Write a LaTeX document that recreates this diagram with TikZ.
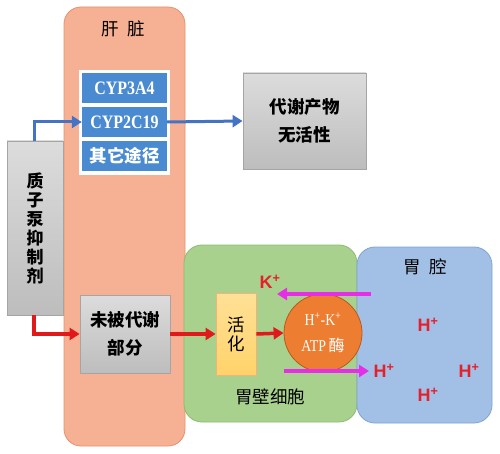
\documentclass[tikz,border=0pt]{standalone}
\usepackage{fontspec}
\setmainfont{Liberation Serif}
\newfontfamily\cjk{Noto Sans CJK SC}
\newfontfamily\arialf{Liberation Sans}
\newfontfamily\narrowserif{Liberation Serif}[FakeStretch=0.84]
\usetikzlibrary{arrows.meta}
\definecolor{liverfill}{HTML}{F6B093}
\definecolor{liverdraw}{HTML}{E5926D}
\definecolor{greenfill}{HTML}{A9D18E}
\definecolor{greendraw}{HTML}{8CBB6E}
\definecolor{bluefill}{HTML}{A2C0E6}
\definecolor{bluedraw}{HTML}{7EA3D3}
\definecolor{cypfill}{HTML}{4A8AD0}
\definecolor{atpfill}{HTML}{ED7D31}
\definecolor{atpdraw}{HTML}{B85A1E}
\definecolor{actfill}{HTML}{FFD36A}
\definecolor{actdraw}{HTML}{F2B27A}
\definecolor{arrblue}{HTML}{4472C4}
\definecolor{arrred}{HTML}{E01A1A}
\definecolor{arrmag}{HTML}{E62EE6}
\definecolor{ionred}{HTML}{E3202C}
\definecolor{greytop}{HTML}{DCDCDC}
\definecolor{greybot}{HTML}{BDBDBD}
\definecolor{greydraw}{HTML}{A5A5A5}
\tikzset{
  region/.style={draw, line width=0.8pt, inner sep=0pt},
  greybox/.style={draw=greydraw, line width=0.8pt, top color=greytop, bottom color=greybot, inner sep=0pt, align=center},
  cypbox/.style={fill=cypfill, inner sep=0pt, minimum width=85pt, minimum height=30pt, text=white},
  cyptext/.style={font=\narrowserif\bfseries\fontsize{19}{20}\selectfont},
  cjkbold/.style={font=\cjk\bfseries\fontsize{17.5}{28}\selectfont},
  cjkreg/.style={font=\cjk\fontsize{17}{20}\selectfont},
  ion/.style={text=ionred, font=\arialf\bfseries\fontsize{18}{20}\selectfont, inner sep=0pt},
  bluearr/.style={draw=arrblue, line width=3pt, -{Triangle[length=10pt,width=12pt]}},
  redarr/.style={draw=arrred, line width=3.5pt, -{Triangle[length=10pt,width=12pt]}},
  magarr/.style={draw=arrmag, line width=3.5pt, -{Triangle[length=10pt,width=12pt]}},
}
\begin{document}
\begin{tikzpicture}[x=1pt,y=-1pt]
\useasboundingbox (0,0) rectangle (500,454);
% regions
\node[region, draw=liverdraw, fill=liverfill, rounded corners=17pt, minimum width=121pt, minimum height=439pt] (liver) at (124.5,226.5) {};
\node[region, draw=greendraw, fill=greenfill, rounded corners=18pt, minimum width=173pt, minimum height=177pt] (cell) at (270.5,333.5) {};
\node[region, draw=bluedraw, fill=bluefill, rounded corners=18pt, minimum width=135pt, minimum height=176pt] (lumen) at (424.5,335) {};
% titles
\node[font=\cjk\fontsize{17.5}{18}\selectfont] (livert) at (123,29) {肝\hspace{9pt}脏};
\node[font=\cjk\fontsize{17.5}{18}\selectfont] (lument) at (425,267) {胃\hspace{9pt}腔};
\node[font=\cjk\fontsize{17.5}{18}\selectfont] (cellt) at (270,397) {胃壁细胞};
% CYP frame
\node[fill=white, inner sep=0pt, minimum width=91pt, minimum height=105pt] (frame) at (124.5,122.5) {};
\node[cypbox, cyptext] (cyp1) at (124.5,88) {CYP3A4};
\node[cypbox, cyptext] (cyp2) at (124.5,122) {CYP2C19};
\node[cypbox, font=\cjk\bfseries\fontsize{17.5}{18}\selectfont] (cyp3) at (124.5,156) {其它途径};
% grey boxes
\node[greybox, minimum width=56pt, minimum height=174pt, font=\cjk\bfseries\fontsize{17}{19}\selectfont] (ppi) at (35,228) {质\\子\\泵\\抑\\制\\剂};
\node[greybox, minimum width=123pt, minimum height=96pt, cjkbold] (met) at (304.5,121) {代谢产物\\无活性};
\node[greybox, minimum width=90pt, minimum height=78pt, cjkbold] (unmet) at (125,334) {未被代谢\\部分};
% activation
\node[draw=actdraw, line width=0.8pt, top color=actfill!70!white, bottom color=actfill, inner sep=0pt, minimum width=40pt, minimum height=82pt, align=center, font=\cjk\fontsize{17.5}{19}\selectfont] (act) at (236,334) {活\\化};
% ATPase
\node[circle, draw=atpdraw, line width=0.8pt, fill=atpfill, minimum size=78pt, inner sep=0pt, text=white, align=center, font=\narrowserif\fontsize{16.5}{26}\selectfont] (atp) at (323,333) {H\textsuperscript{+}-K\textsuperscript{+}\\ATP\,{\cjk\fontsize{16}{16}\selectfont 酶}};
% arrows
\coordinate (px) at (34,0);
\draw[bluearr] (ppi.north -| px) |- (cyp2.west);
\draw[bluearr] (cyp2.east) -- (met.west);
\draw[redarr] (ppi.south -| px) |- (unmet.west);
\draw[redarr] (unmet.east) -- (act.west);
\draw[redarr] (act.east) -- (atp.west);
\coordinate (k1) at (371,294);
\coordinate (k2) at (277,294);
\coordinate (h1) at (284,371);
\coordinate (h2) at (369,371);
\draw[magarr] (k1) -- (k2);
\draw[magarr] (h1) -- (h2);
% ions
\node[ion] (kion) at (270,282) {K\textsuperscript{+}};
\node[ion] (hion1) at (384,371) {H\textsuperscript{+}};
\node[ion] (hion2) at (428,325) {H\textsuperscript{+}};
\node[ion] (hion3) at (469,371) {H\textsuperscript{+}};
\node[ion] (hion4) at (428,395) {H\textsuperscript{+}};
\end{tikzpicture}
\end{document}
